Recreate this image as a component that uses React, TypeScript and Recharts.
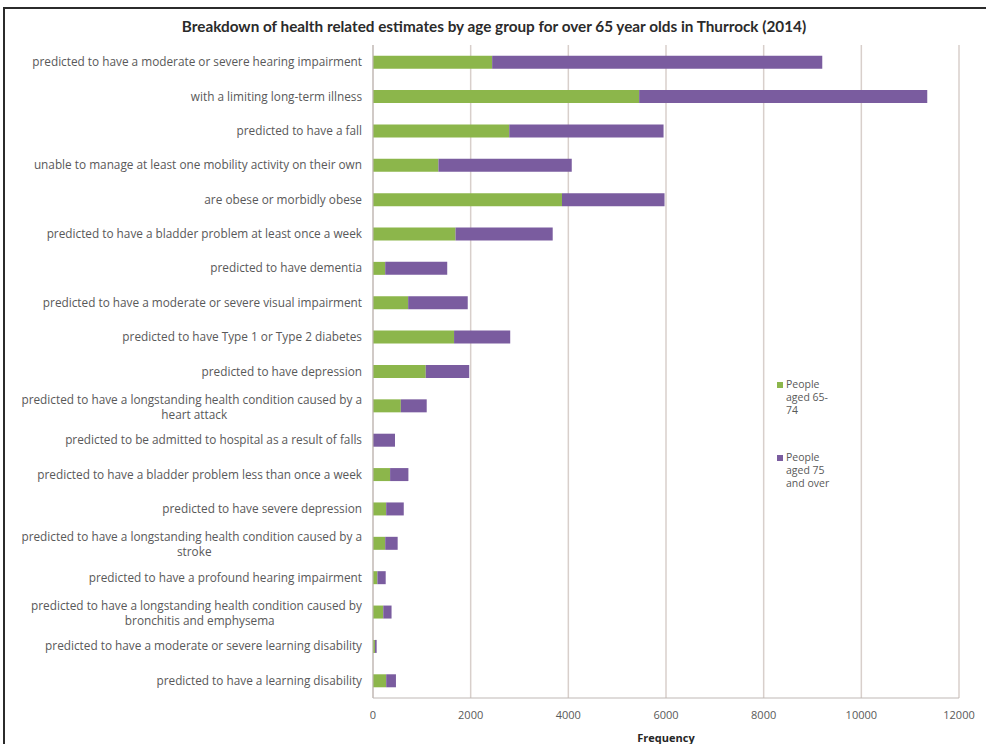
import React from 'react';
import { BarChart, Bar, XAxis, YAxis, CartesianGrid } from 'recharts';

const categories = [
  'predicted to have a moderate or severe hearing impairment',
  'with a limiting long-term illness',
  'predicted to have a fall',
  'unable to manage at least one mobility activity on their own',
  'are obese or morbidly obese',
  'predicted to have a bladder problem at least once a week',
  'predicted to have dementia',
  'predicted to have a moderate or severe visual impairment',
  'predicted to have Type 1 or Type 2 diabetes',
  'predicted to have depression',
  'predicted to have a longstanding health condition caused by a\nheart attack',
  'predicted to be admitted to hospital as a result of falls',
  'predicted to have a bladder problem less than once a week',
  'predicted to have severe depression',
  'predicted to have a longstanding health condition caused by a\nstroke',
  'predicted to have a profound hearing impairment',
  'predicted to have a longstanding health condition caused by\nbronchitis and emphysema',
  'predicted to have a moderate or severe learning disability',
  'predicted to have a learning disability',
];

const aged65to74 = [2440, 5450, 2790, 1340, 3870, 1690, 250, 720, 1660, 1080, 570, 0, 350, 270, 250, 90, 210, 40, 270];
const aged75plus = [6760, 5900, 3160, 2730, 2100, 1990, 1270, 1220, 1150, 890, 530, 450, 375, 360, 255, 170, 170, 35, 200];

const xTicks = [0, 2000, 4000, 6000, 8000, 10000, 12000];

const GREEN = '#8cb64b';
const PURPLE = '#7a5c9f';
const FONT = '"Open Sans", Lato, sans-serif';
const TITLE_FONT = 'Lato, "Open Sans", sans-serif';

const data = categories.map((label, i) => ({
  label,
  young: aged65to74[i],
  old: aged75plus[i],
}));

// Excel-style labels: right aligned, wrapped ones centred under the first line
const CategoryTick = (props: any) => {
  const { x, y, payload } = props;
  const lines: string[] = String(payload.value).split('\n');
  if (lines.length === 1) {
    return (
      <text x={x} y={y} dy={4} textAnchor="end" fill="#595959" fontSize={11.8} fontFamily={FONT}>
        {lines[0]}
      </text>
    );
  }
  const center = x - lines[0].length * 2.75;
  return (
    <g>
      <text x={x} y={y} dy={-2} textAnchor="end" fill="#595959" fontSize={11.8} fontFamily={FONT}>
        {lines[0]}
      </text>
      <text x={center} y={y} dy={13} textAnchor="middle" fill="#595959" fontSize={11.8} fontFamily={FONT}>
        {lines[1]}
      </text>
    </g>
  );
};

const legendItems = [
  { color: GREEN, lines: ['People', 'aged 65-', '74'] },
  { color: PURPLE, lines: ['People', 'aged 75', 'and over'] },
];

export default function App() {
  return (
    <div style={{ position: 'relative', width: 986, height: 744, overflow: 'hidden', background: '#fff' }}>
      <style>{'body{margin:0}'}</style>
      <div
        style={{
          position: 'absolute',
          left: 3,
          top: 7,
          width: 1000,
          height: 760,
          border: '2px solid #2b2b2b',
        }}
      />
      <div
        style={{
          position: 'absolute',
          left: 0,
          top: 17,
          width: 988,
          textAlign: 'center',
          fontFamily: TITLE_FONT,
          fontWeight: 'bold',
          fontSize: 15.3,
          color: '#2b2b2b',
        }}
      >
        Breakdown of health related estimates by age group for over 65 year olds in Thurrock (2014)
      </div>
      <div style={{ position: 'absolute', left: 0, top: 0 }}>
        <BarChart
          width={986}
          height={744}
          data={data}
          layout="vertical"
          margin={{ top: 45, right: 27, bottom: 0, left: 8 }}
          barCategoryGap="31%"
        >
          <CartesianGrid horizontal={false} stroke="#d8cfcb" strokeWidth={1.5} />
          <XAxis
            type="number"
            domain={[0, 12000]}
            ticks={xTicks}
            interval={0}
            height={46}
            axisLine={{ stroke: '#bfb8b5' }}
            tickLine={false}
            tickSize={0}
            tickMargin={13}
            tick={{ fill: '#595959', fontSize: 11, fontFamily: FONT }}
            label={{
              value: 'Frequency',
              position: 'insideBottom',
              offset: 2,
              fill: '#262626',
              fontSize: 11,
              fontWeight: 'bold',
              fontFamily: FONT,
            }}
          />
          <YAxis
            type="category"
            dataKey="label"
            width={365}
            interval={0}
            axisLine={{ stroke: '#bfb8b5' }}
            tickLine={false}
            tickSize={0}
            tickMargin={11}
            tick={<CategoryTick />}
          />
          <Bar dataKey="young" stackId="a" fill={GREEN} name="People aged 65-74" isAnimationActive={false} />
          <Bar dataKey="old" stackId="a" fill={PURPLE} name="People aged 75 and over" isAnimationActive={false} />
        </BarChart>
      </div>
      <div
        style={{
          position: 'absolute',
          left: 777,
          top: 378,
          fontFamily: FONT,
          fontSize: 10.5,
          color: '#595959',
          lineHeight: '13px',
        }}
      >
        {legendItems.map((item, i) => (
          <div key={i} style={{ display: 'flex', marginBottom: i === 0 ? 34 : 0 }}>
            <div style={{ width: 6, height: 6, background: item.color, marginTop: 4, marginRight: 3 }} />
            <div>
              {item.lines.map((l, j) => (
                <div key={j}>{l}</div>
              ))}
            </div>
          </div>
        ))}
      </div>
    </div>
  );
}
